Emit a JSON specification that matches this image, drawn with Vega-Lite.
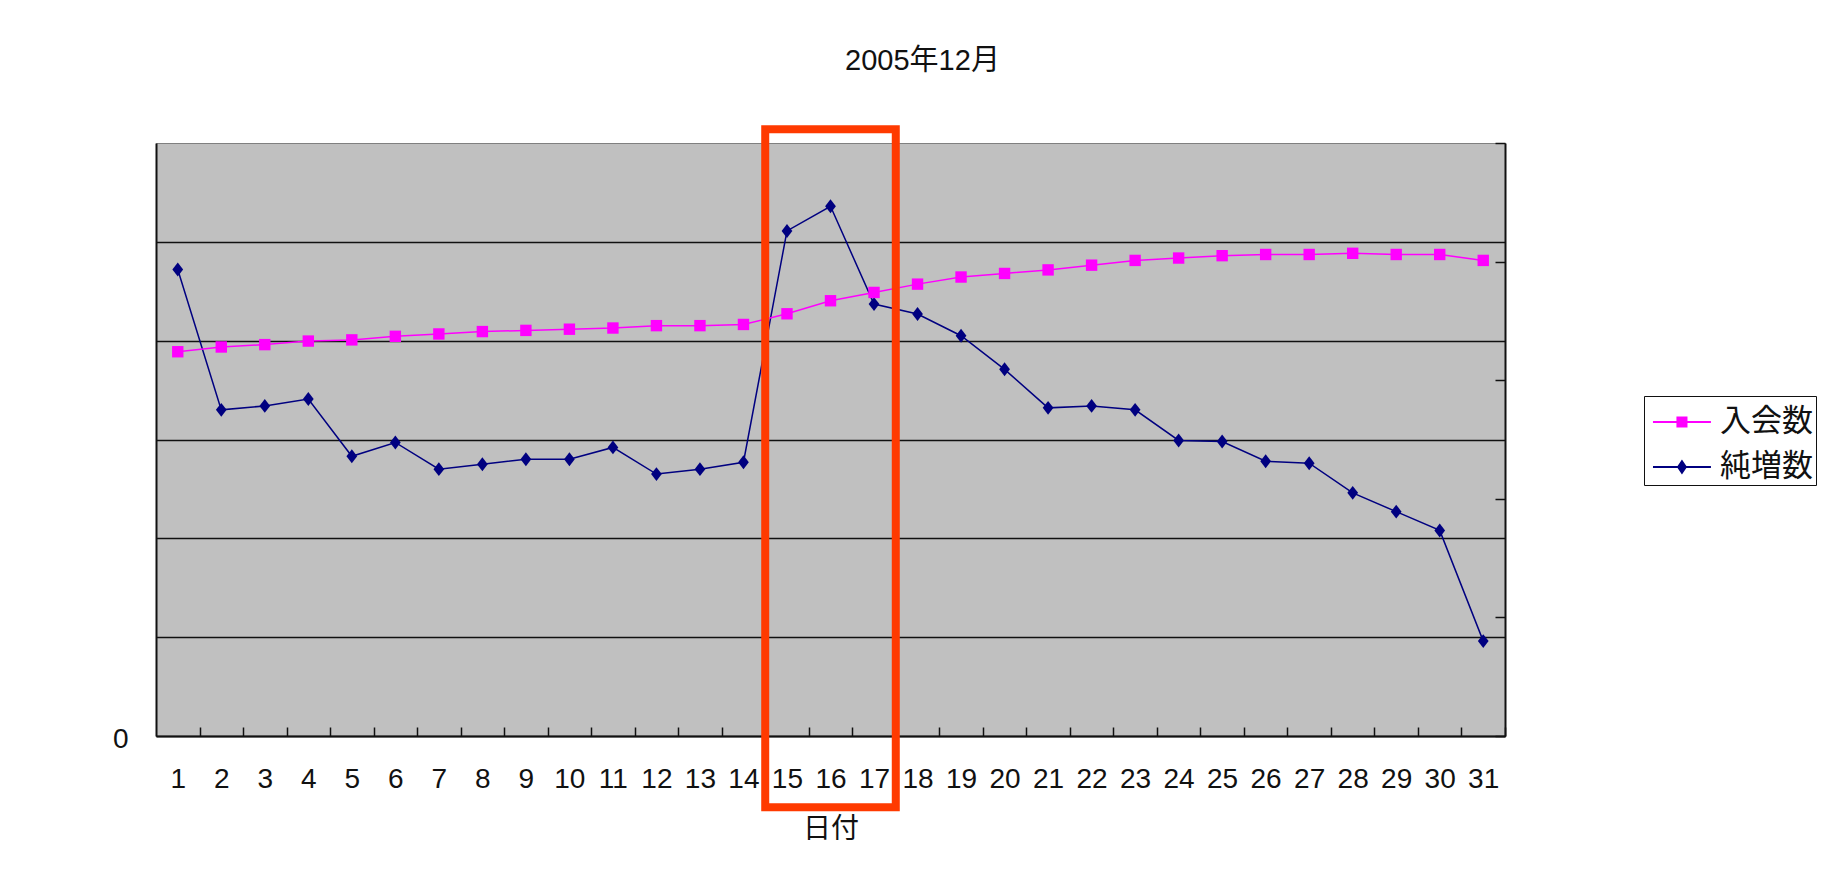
{
  "$schema": "https://vega.github.io/schema/vega-lite/v6.json",
  "width": 1349,
  "height": 593,
  "autosize": {"type": "none"},
  "padding": {"left": 156, "top": 143, "right": 338, "bottom": 143},
  "background": "white",
  "view": {"fill": "#c0c0c0", "stroke": "#808080", "strokeWidth": 1},
  "title": {
    "text": "2005年12月",
    "anchor": "middle",
    "frame": "group",
    "dx": 92,
    "offset": 26,
    "baseline": "alphabetic",
    "font": "Liberation Sans, Noto Sans CJK JP",
    "fontSize": 29,
    "fontWeight": "normal",
    "color": "#111111"
  },
  "config": {
    "view": {"fill": "#c0c0c0", "stroke": "#808080", "strokeWidth": 1}
  },
  "datasets": {
    "daily": [
      {"day": 1, "new_members": 324, "net_increase": 472},
      {"day": 2, "new_members": 328, "net_increase": 330},
      {"day": 3, "new_members": 330, "net_increase": 334},
      {"day": 4, "new_members": 333, "net_increase": 341},
      {"day": 5, "new_members": 334, "net_increase": 283},
      {"day": 6, "new_members": 337, "net_increase": 297},
      {"day": 7, "new_members": 339, "net_increase": 270},
      {"day": 8, "new_members": 341, "net_increase": 275},
      {"day": 9, "new_members": 342, "net_increase": 280},
      {"day": 10, "new_members": 343, "net_increase": 280},
      {"day": 11, "new_members": 344, "net_increase": 292},
      {"day": 12, "new_members": 346, "net_increase": 265},
      {"day": 13, "new_members": 346, "net_increase": 270},
      {"day": 14, "new_members": 347, "net_increase": 277},
      {"day": 15, "new_members": 356, "net_increase": 511},
      {"day": 16, "new_members": 367, "net_increase": 536},
      {"day": 17, "new_members": 374, "net_increase": 437},
      {"day": 18, "new_members": 381, "net_increase": 427},
      {"day": 19, "new_members": 387, "net_increase": 405},
      {"day": 20, "new_members": 390, "net_increase": 371},
      {"day": 21, "new_members": 393, "net_increase": 332},
      {"day": 22, "new_members": 397, "net_increase": 334},
      {"day": 23, "new_members": 401, "net_increase": 330},
      {"day": 24, "new_members": 403, "net_increase": 299},
      {"day": 25, "new_members": 405, "net_increase": 298},
      {"day": 26, "new_members": 406, "net_increase": 278},
      {"day": 27, "new_members": 406, "net_increase": 276},
      {"day": 28, "new_members": 407, "net_increase": 246},
      {"day": 29, "new_members": 406, "net_increase": 227},
      {"day": 30, "new_members": 406, "net_increase": 208},
      {"day": 31, "new_members": 401, "net_increase": 96}
    ],
    "highlight": [
      {"start": 14.5, "end": 17.5, "top": 614, "bottom": -72}
    ]
  },
  "layer": [
    {
      "data": {"name": "daily"},
      "encoding": {
        "x": {
          "field": "day",
          "type": "quantitative",
          "scale": {"domain": [0.5, 31.5], "nice": false, "zero": false},
          "axis": {
            "values": [1.5, 2.5, 3.5, 4.5, 5.5, 6.5, 7.5, 8.5, 9.5, 10.5, 11.5, 12.5, 13.5, 14.5, 15.5, 16.5, 17.5, 18.5, 19.5, 20.5, 21.5, 22.5, 23.5, 24.5, 25.5, 26.5, 27.5, 28.5, 29.5, 30.5, 31.5],
            "labelExpr": "format(datum.value - 0.5, 'd')",
            "labelOffset": -21.8,
            "labelFlush": false,
            "labelOverlap": false,
            "labelBound": false,
            "labelFont": "Liberation Sans",
            "labelFontSize": 28,
            "labelColor": "#111111",
            "labelPadding": 38,
            "tickSize": -9,
            "tickColor": "#111111",
            "tickWidth": 1.5,
            "domainColor": "#111111",
            "domainWidth": 2,
            "grid": false,
            "title": "日付",
            "titleFont": "Noto Sans CJK JP",
            "titleFontSize": 28,
            "titleFontWeight": "normal",
            "titleColor": "#111111",
            "titlePadding": 22
          }
        },
        "y": {
          "field": "net_increase",
          "type": "quantitative",
          "scale": {"domain": [0, 600], "nice": false},
          "axis": {
            "orient": "left",
            "values": [0, 100, 200, 300, 400, 500],
            "labelExpr": "datum.value === 0 ? '0' : ''",
            "labelFont": "Liberation Sans",
            "labelFontSize": 28,
            "labelColor": "#111111",
            "labelPadding": 28,
            "labelOffset": 3,
            "tickSize": 0,
            "grid": true,
            "gridColor": "#111111",
            "gridWidth": 1.3,
            "domainColor": "#111111",
            "domainWidth": 2,
            "title": null
          }
        }
      },
      "layer": [
        {"mark": {"type": "line", "color": "#000080", "strokeWidth": 1.5}},
        {"mark": {"type": "point", "shape": "M0,-1.1L0.85,0L0,1.1L-0.85,0Z", "filled": true, "color": "#000080", "size": 160, "opacity": 1}}
      ]
    },
    {
      "data": {"name": "daily"},
      "encoding": {
        "x": {
          "field": "day",
          "type": "quantitative",
          "scale": {"domain": [0.5, 31.5], "nice": false, "zero": false},
          "axis": {
            "values": [1.5, 2.5, 3.5, 4.5, 5.5, 6.5, 7.5, 8.5, 9.5, 10.5, 11.5, 12.5, 13.5, 14.5, 15.5, 16.5, 17.5, 18.5, 19.5, 20.5, 21.5, 22.5, 23.5, 24.5, 25.5, 26.5, 27.5, 28.5, 29.5, 30.5, 31.5],
            "labelExpr": "format(datum.value - 0.5, 'd')",
            "labelOffset": -21.8,
            "labelFlush": false,
            "labelOverlap": false,
            "labelBound": false,
            "labelFont": "Liberation Sans",
            "labelFontSize": 28,
            "labelColor": "#111111",
            "labelPadding": 38,
            "tickSize": -9,
            "tickColor": "#111111",
            "tickWidth": 1.5,
            "domainColor": "#111111",
            "domainWidth": 2,
            "grid": false,
            "title": "日付",
            "titleFont": "Noto Sans CJK JP",
            "titleFontSize": 28,
            "titleFontWeight": "normal",
            "titleColor": "#111111",
            "titlePadding": 22
          }
        },
        "y": {
          "field": "new_members",
          "type": "quantitative",
          "scale": {"domain": [0, 500], "nice": false},
          "axis": {
            "orient": "right",
            "values": [0, 100, 200, 300, 400, 500],
            "labels": false,
            "grid": false,
            "tickSize": -10,
            "tickColor": "#111111",
            "tickWidth": 1.5,
            "domainColor": "#111111",
            "domainWidth": 2,
            "title": null
          }
        }
      },
      "layer": [
        {"mark": {"type": "line", "color": "#ff00ff", "strokeWidth": 1.5}},
        {"mark": {"type": "point", "shape": "square", "filled": true, "color": "#ff00ff", "size": 130, "opacity": 1}}
      ]
    },
    {
      "data": {"name": "highlight"},
      "mark": {"type": "rect", "filled": false, "stroke": "#ff3a00", "strokeWidth": 8},
      "encoding": {
        "x": {
          "field": "start",
          "type": "quantitative",
          "scale": {"domain": [0.5, 31.5], "nice": false, "zero": false},
          "axis": {
            "values": [1.5, 2.5, 3.5, 4.5, 5.5, 6.5, 7.5, 8.5, 9.5, 10.5, 11.5, 12.5, 13.5, 14.5, 15.5, 16.5, 17.5, 18.5, 19.5, 20.5, 21.5, 22.5, 23.5, 24.5, 25.5, 26.5, 27.5, 28.5, 29.5, 30.5, 31.5],
            "labelExpr": "format(datum.value - 0.5, 'd')",
            "labelOffset": -21.8,
            "labelFlush": false,
            "labelOverlap": false,
            "labelBound": false,
            "labelFont": "Liberation Sans",
            "labelFontSize": 28,
            "labelColor": "#111111",
            "labelPadding": 38,
            "tickSize": -9,
            "tickColor": "#111111",
            "tickWidth": 1.5,
            "domainColor": "#111111",
            "domainWidth": 2,
            "grid": false,
            "title": "日付",
            "titleFont": "Noto Sans CJK JP",
            "titleFontSize": 28,
            "titleFontWeight": "normal",
            "titleColor": "#111111",
            "titlePadding": 22
          }
        },
        "x2": {"field": "end"},
        "y": {"field": "top", "type": "quantitative", "scale": {"domain": [0, 600], "nice": false}, "axis": null},
        "y2": {"field": "bottom"}
      }
    },
    {
      "data": {"values": []},
      "mark": {"type": "point", "filled": true},
      "encoding": {
        "color": {
          "field": "series",
          "type": "nominal",
          "scale": {"domain": ["入会数", "純増数"], "range": ["#ff00ff", "#000080"]},
          "legend": {
            "title": null,
            "orient": "none",
            "legendX": 1488,
            "legendY": 253,
            "strokeColor": "#111111",
            "fillColor": "white",
            "padding": 3,
            "symbolSize": 2116,
            "symbolStrokeWidth": 0,
            "symbolOpacity": 1,
            "labelFont": "Noto Sans CJK JP",
            "labelFontSize": 31,
            "labelColor": "#111111",
            "labelOffset": 27,
            "labelLimit": 0,
            "rowPadding": 7
          }
        },
        "shape": {
          "field": "series",
          "type": "nominal",
          "scale": {
            "domain": ["入会数", "純増数"],
            "range": [
              "M-0.74,-0.04H1.78V0.04H-0.74Z M0.28,-0.24H0.76V0.24H0.28Z",
              "M-0.74,-0.04H1.78V0.04H-0.74Z M0.52,-0.33L0.74,0L0.52,0.33L0.3,0Z"
            ]
          },
          "legend": {
            "title": null,
            "orient": "none",
            "legendX": 1488,
            "legendY": 253,
            "strokeColor": "#111111",
            "fillColor": "white",
            "padding": 3,
            "symbolSize": 2116,
            "symbolStrokeWidth": 0,
            "symbolOpacity": 1,
            "labelFont": "Noto Sans CJK JP",
            "labelFontSize": 31,
            "labelColor": "#111111",
            "labelOffset": 27,
            "labelLimit": 0,
            "rowPadding": 7
          }
        }
      }
    }
  ],
  "resolve": {"scale": {"y": "independent"}}
}
